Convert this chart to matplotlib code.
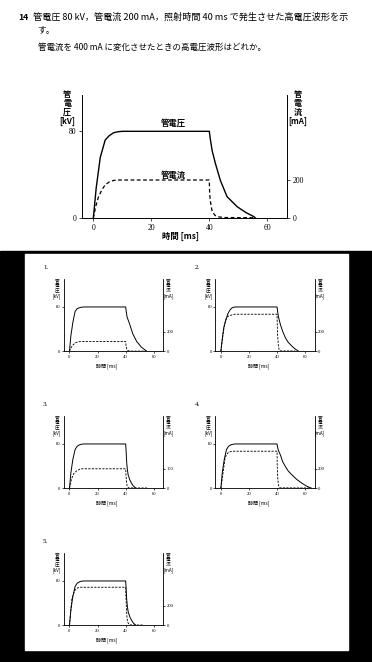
import matplotlib
matplotlib.use("Agg")
import matplotlib.pyplot as plt
from matplotlib.patches import Rectangle

W, H = 372, 662
JP = ['Noto Sans CJK JP', 'DejaVu Sans']
SERIF = ['Liberation Serif', 'DejaVu Serif']

# question text
q_num = "14"
q_line1 = "管電圧 80 kV，管電流 200 mA，照射時間 40 ms で発生させた高電圧波形を示"
q_line2 = "す。"
q_line3 = "管電流を 400 mA に変化させたときの高電圧波形はどれか。"

# reference waveform (管電圧 80 kV, 管電流 200 mA, 40 ms)
ref_vt = [0, 1, 2.4, 4.1, 5.5, 7, 8.5, 10, 40, 40.4, 41, 42.1, 43.8, 46.1, 49.6, 52.5, 55.4, 56]
ref_v = [0, 28, 56, 72, 76, 78.7, 79.6, 80, 80, 72, 62, 50.5, 35, 20, 10.7, 5.5, 1.5, 0]
ref_it = [0, 0.8, 1.8, 3, 4.1, 5.5, 7, 8.5, 10, 40, 40.1, 40.3, 41, 42, 43, 45, 56]
ref_i = [0, 60, 113, 150, 175, 190, 198, 200, 200, 200, 140, 96, 35, 15, 8, 4, 3]

# answer choices 1-5
opt1_vt = [0, 1, 2.4, 4, 5.5, 7.6, 10, 40, 40.4, 41, 43, 45, 47.8, 51, 55]
opt1_v = [0, 28, 52, 72, 77, 79, 80, 80, 72, 62, 48, 32, 18, 8, 0]
opt1_it = [0, 1, 2.5, 4, 6, 8, 40, 40.2, 40.6, 41.5, 43, 55]
opt1_i = [0, 34, 65, 85, 97, 100, 100, 70, 30, 8, 2, 2]

opt2_vt = [0, 1, 2, 3.6, 5, 6.6, 8, 10, 40, 40.4, 41, 42.4, 44, 46, 48, 50.7, 53, 55.4]
opt2_v = [0, 22, 42, 57, 68, 75, 78.5, 80, 80, 72, 62, 48, 36, 24, 16, 9, 4, 0]
opt2_it = [0, 1, 2.6, 4, 5.5, 7.6, 10, 40, 40.1, 40.4, 41, 41.5, 42.5, 53]
opt2_i = [0, 120, 276, 345, 362, 372, 380, 380, 300, 160, 50, 15, 4, 3]

opt3_vt = [0, 1, 2.4, 4, 5.5, 7.6, 10, 40, 40.3, 40.7, 41.2, 41.8, 43, 44.2, 45.5, 47.3]
opt3_v = [0, 28, 52, 70, 76, 79, 80, 80, 68, 48, 34, 24, 15, 9, 4, 0]
opt3_it = [0, 1, 1.7, 3, 5.2, 8, 40, 40.2, 40.5, 41, 42, 56]
opt3_i = [0, 70, 104, 150, 180, 200, 200, 150, 80, 25, 4, 3]

opt4_vt = [0, 1, 2.4, 4, 5.5, 7.6, 10, 40, 40.3, 41, 42.4, 44, 46, 48, 50.7, 54, 57.8, 61, 64.5]
opt4_v = [0, 28, 52, 70, 76, 79, 80, 80, 75, 68, 60, 48, 39, 31, 24, 16, 9, 4, 0]
opt4_it = [0, 1, 3, 4, 5.5, 8, 40, 40.1, 40.5, 41, 42, 64.5]
opt4_i = [0, 100, 311, 345, 370, 380, 380, 250, 100, 30, 5, 3]

opt5_vt = [0, 1, 2.4, 4, 5.5, 7.6, 10, 40, 40.3, 40.7, 41.2, 41.8, 43, 44.2, 45.5, 47.3]
opt5_v = [0, 28, 52, 70, 76, 79, 80, 80, 68, 48, 34, 24, 15, 9, 4, 0]
opt5_it = [0, 1, 1.7, 4, 6, 8, 40, 40.2, 40.6, 41, 41.5, 42.5, 44, 53]
opt5_i = [0, 160, 276, 363, 385, 390, 390, 300, 150, 70, 30, 8, 3, 3]

x_ticks = [0, 20, 40, 60]
v_ticks = [0, 80]
i_ticks = [0, 200]
opt3_i_ticks = ["0", "100"]

MA_PER_KV = 5.68


def box(l, t, r, b):
    return [l / W, 1 - b / H, (r - l) / W, (b - t) / H]


def ftext(x, y, s, **kw):
    fig.text(x / W, 1 - y / H, s, **kw)


def draw_chart(rect, vt, v, it, cur, big, vmax, i_labels=None):
    ax = fig.add_axes(rect)
    ax.set_facecolor('none')
    ax2 = ax.twinx()
    lw = 1.0 if big else 0.7
    ax.plot(vt, v, color='black', lw=lw, solid_joinstyle='round')
    ax2.plot(it, cur, color='black', lw=lw * 0.9, dashes=(3, 2) if big else (2.5, 1.5))
    ax.set_xlim(-3.9, 66.8)
    ax.set_ylim(0, vmax)
    ax2.set_ylim(0, vmax * MA_PER_KV)
    fs = 5.5 if big else 3.3
    tl = 2.5 if big else 1.5
    for a in (ax, ax2):
        a.spines['top'].set_visible(False)
        for s in a.spines.values():
            s.set_linewidth(0.6 if big else 0.45)
        a.tick_params(length=tl, width=0.5, pad=1.5 if big else 1, labelsize=fs)
    ax.set_xticks(x_ticks)
    ax.set_yticks(v_ticks)
    ax2.set_yticks(i_ticks)
    if i_labels:
        ax2.set_yticklabels(i_labels)
    for lab in ax.get_xticklabels() + ax.get_yticklabels() + ax2.get_yticklabels():
        lab.set_family(SERIF)
    return ax


fig = plt.figure(figsize=(W / 100, H / 100), dpi=100)

# black band with the white panel of choices
fig.add_artist(Rectangle((0, 0), 1, 1 - 251 / H, transform=fig.transFigure,
                         color='black', zorder=-10))
fig.add_artist(Rectangle((25 / W, 1 - 650 / H), (348 - 25) / W, (650 - 254) / H,
                         transform=fig.transFigure, color='white', zorder=-9))

# question
ftext(18, 17, q_num, family=JP, fontsize=6.3, va='center', fontweight='bold')
ftext(33, 17, q_line1, family=JP, fontsize=6.6, va='center')
ftext(37, 30, q_line2, family=JP, fontsize=6.3, va='center')
ftext(38, 47, q_line3, family=JP, fontsize=6.1, va='center')

# reference chart
draw_chart(box(82, 95, 287, 218.3), ref_vt, ref_v, ref_it, ref_i, True, 113.4)
ftext(67, 108, "管\n電\n圧\n[kV]", family=JP, fontsize=5.8, ha='center', va='center',
      linespacing=0.95, fontweight='bold')
ftext(298, 108, "管\n電\n流\n[mA]", family=JP, fontsize=5.8, ha='center', va='center',
      linespacing=0.95, fontweight='bold')
ftext(180, 236, "時間 [ms]", family=JP, fontsize=6, ha='center', va='center', fontweight='bold')
ftext(173, 123, "管電圧", family=JP, fontsize=6, ha='center', va='center', fontweight='bold')
ftext(173, 175, "管電流", family=JP, fontsize=6, ha='center', va='center', fontweight='bold')

# choices
options = [
    ("1.", 64, 278.7, opt1_vt, opt1_v, opt1_it, opt1_i, None),
    ("2.", 215.4, 278.7, opt2_vt, opt2_v, opt2_it, opt2_i, None),
    ("3.", 64, 415.7, opt3_vt, opt3_v, opt3_it, opt3_i, opt3_i_ticks),
    ("4.", 215.4, 415.7, opt4_vt, opt4_v, opt4_it, opt4_i, None),
    ("5.", 64, 552.7, opt5_vt, opt5_v, opt5_it, opt5_i, None),
]
for num, left, top, vt, v, it, cur, ilab in options:
    right = left + 99.3
    bottom = top + 72.6
    draw_chart(box(left, top, right, bottom), vt, v, it, cur, False, 131, ilab)
    ftext(left - 21, top - 11, num, family=SERIF, fontsize=5, va='center')
    ftext(left - 7, top + 10, "管\n電\n圧\n[kV]", family=JP, fontsize=3.3, ha='center',
          va='center', linespacing=0.95)
    ftext(right + 5, top + 10, "管\n電\n流\n[mA]", family=JP, fontsize=3.3, ha='center',
          va='center', linespacing=0.95)
    ftext(left + 43, bottom + 15, "時間 [ms]", family=JP, fontsize=3.6, ha='center', va='center')

fig.savefig("out.png", dpi=100, facecolor='white')
